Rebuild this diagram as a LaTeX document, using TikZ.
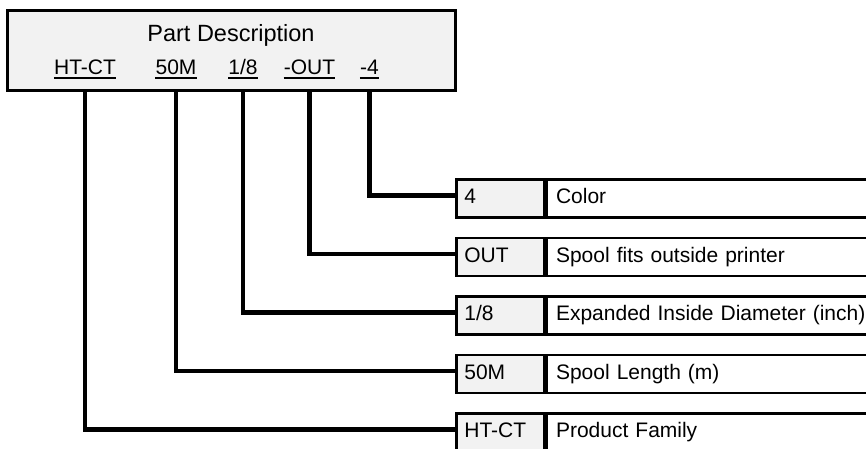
\documentclass[tikz,border=0pt]{standalone}
\usepackage{fontspec}
\setmainfont{Liberation Sans}
\usetikzlibrary{positioning}
\definecolor{cellgray}{HTML}{F2F2F2}

\begin{document}
\begin{tikzpicture}[x=1pt, y=-1pt,
                    cell/.style={draw, line width=2.7pt, minimum height=38pt, inner sep=0pt,
                                 align=left, text height=15.5pt, text depth=4.5pt,
                                 font=\fontsize{21}{24}\selectfont},
                    code/.style={cell, fill=cellgray, minimum width=88pt, text width=72pt, anchor=north west},
                    desc/.style={cell, fill=white, minimum width=360pt, text width=342pt},
                    partlabel/.style={inner sep=0pt, anchor=base, text depth=0pt,
                                      font=\fontsize{21}{24}\selectfont},
                    lead/.style={line width=4.6pt}]

    \clip (0,0) rectangle (866,448);

    % part number box
    \node[draw, line width=3pt, fill=cellgray, minimum width=448pt, minimum height=80pt] (partbox) at (231,50) {};
    \node[anchor=base, inner sep=0pt, font=\fontsize{23.5}{28}\selectfont] (title) at (231,41) {Part Description};
    \node[partlabel] (lHT)  at (85,74)    {HT-CT};
    \node[partlabel] (lLen) at (176,74)   {50M};
    \node[partlabel] (lDia) at (243,74)   {1/8};
    \node[partlabel] (lOut) at (309.5,74) {-OUT};
    \node[partlabel] (lCol) at (369.5,74) {-4};
    \foreach \l in {lHT, lLen, lDia, lOut, lCol}
        \draw[line width=2pt] ([yshift=-4pt]\l.south west) -- ([yshift=-4pt]\l.south east);

    % table rows
    \node[code] (cCol) at (455,178)   {4};
    \node[desc, right=0pt of cCol] (dCol) {Color};
    \node[code] (cOut) at (455,236.5) {OUT};
    \node[desc, right=0pt of cOut] (dOut) {Spool fits outside printer};
    \node[code] (cDia) at (455,295)   {1/8};
    \node[desc, right=0pt of cDia] (dDia) {Expanded Inside Diameter (inch)};
    \node[code] (cLen) at (455,353.5) {50M};
    \node[desc, right=0pt of cLen] (dLen) {Spool Length (m)};
    \node[code] (cHT)  at (455,412)   {HT-CT};
    \node[desc, right=0pt of cHT] (dHT) {Product Family};

    % leaders
    \draw[lead] (lCol.south |- partbox.south) |- ([yshift=3pt]cCol.west);
    \draw[lead] (lOut.south |- partbox.south) |- ([yshift=3pt]cOut.west);
    \draw[lead] (lDia.south |- partbox.south) |- ([yshift=3pt]cDia.west);
    \draw[lead] (lLen.south |- partbox.south) |- ([yshift=3pt]cLen.west);
    \draw[lead] (lHT.south |- partbox.south)  |- ([yshift=3pt]cHT.west);
\end{tikzpicture}
\end{document}
